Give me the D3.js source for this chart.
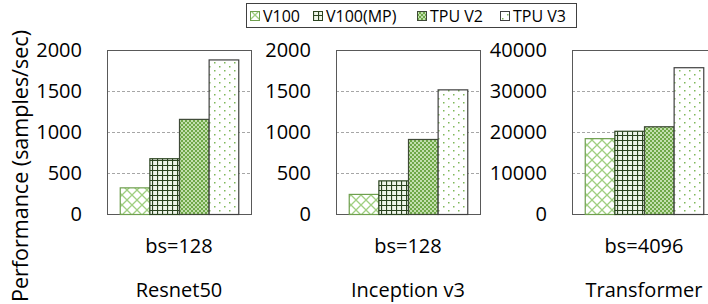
<!DOCTYPE html>
<html lang="en">
  <head>
    <meta charset="UTF-8" />
    <title>Performance by model</title>
    <script src="https://d3js.org/d3.v7.min.js"></script>
    <style>
      body { margin: 0; background: #fff; }
      .chart text { font-family: "Open Sans", sans-serif; fill: #000; }
    </style>
  </head>
  <body>
    <div class="chart"></div>
  </body>
  <script>
    // data
    var models = ["Resnet50", "Inception v3", "Transformer"];
    var batchSizes = ["bs=128", "bs=128", "bs=4096"];
    var series = ["V100", "V100(MP)", "TPU V2", "TPU V3"];
    var resnet50 = [325, 680, 1160, 1885];
    var inceptionV3 = [245, 410, 915, 1520];
    var transformer = [18500, 20300, 21400, 35800];
    var yMax = [2000, 2000, 40000];
    var yTitle = "Performance (samples/sec)";

    var values = [resnet50, inceptionV3, transformer];

    var width = 708, height = 304;
    var panelLeft = [107, 336, 572];
    var panelW = 144;
    var plotTop = 50, plotBottom = 214;

    var svg = d3
      .select(".chart")
      .append("svg")
      .attr("width", width)
      .attr("height", height);

    // fill patterns
    var defs = svg.append("defs");
    var pats = ["p-v100", "p-mp", "p-v2", "p-v3"];
    var strokes = ["#6f9f4f", "#2b4420", "#3f4a38", "#404040"];

    var p0 = defs.append("pattern").attr("id", pats[0])
      .attr("patternUnits", "userSpaceOnUse").attr("width", 10).attr("height", 10);
    p0.append("rect").attr("width", 10).attr("height", 10).attr("fill", "#fff");
    p0.append("path").attr("d", "M0,0L10,10M10,0L0,10")
      .attr("stroke", "#9fcf80").attr("stroke-width", 1.3).attr("fill", "none");

    var p1 = defs.append("pattern").attr("id", pats[1])
      .attr("patternUnits", "userSpaceOnUse").attr("width", 5).attr("height", 5);
    p1.append("rect").attr("width", 5).attr("height", 5).attr("fill", "#eef5e9");
    p1.append("path").attr("d", "M0,0.5H5M0.5,0V5")
      .attr("stroke", "#2b4420").attr("stroke-width", 1.2).attr("fill", "none");

    var p2 = defs.append("pattern").attr("id", pats[2])
      .attr("patternUnits", "userSpaceOnUse").attr("width", 4).attr("height", 4);
    p2.append("rect").attr("width", 4).attr("height", 4).attr("fill", "#6fa848");
    p2.append("rect").attr("x", 0).attr("y", 0).attr("width", 2).attr("height", 2).attr("fill", "#c3dfae");
    p2.append("rect").attr("x", 2).attr("y", 2).attr("width", 2).attr("height", 2).attr("fill", "#c3dfae");

    var p3 = defs.append("pattern").attr("id", pats[3])
      .attr("patternUnits", "userSpaceOnUse").attr("width", 10).attr("height", 8);
    p3.append("rect").attr("width", 10).attr("height", 8).attr("fill", "#fff");
    p3.append("rect").attr("x", 2).attr("y", 2).attr("width", 1.5).attr("height", 1.5).attr("fill", "#7fb85a");
    p3.append("rect").attr("x", 7).attr("y", 6).attr("width", 1.5).attr("height", 1.5).attr("fill", "#7fb85a");

    var color = d3.scaleOrdinal().domain(series).range(pats.map(function (d) { return "url(#" + d + ")"; }));
    var edge = d3.scaleOrdinal().domain(series).range(strokes);

    models.forEach(function (m, i) {
      var g = svg.append("g").attr("transform", "translate(" + panelLeft[i] + ",0)");

      var x = d3.scaleBand().domain(series).range([0, panelW]).paddingInner(0).paddingOuter(0.43);
      var y = d3.scaleLinear().domain([0, yMax[i]]).range([plotBottom, plotTop]);
      var ticks = y.ticks(4);

      // dashed grid
      g.selectAll(".grid")
        .data(ticks.filter(function (t) { return t > 0 && t < yMax[i]; }))
        .enter()
        .append("line")
        .attr("x1", 0).attr("x2", panelW)
        .attr("y1", function (d) { return Math.round(y(d)) + 0.5; })
        .attr("y2", function (d) { return Math.round(y(d)) + 0.5; })
        .attr("stroke", "#a6a6a6")
        .attr("stroke-dasharray", "3,2");

      // frame
      g.append("rect")
        .attr("x", 0.5).attr("y", plotTop + 0.5)
        .attr("width", panelW).attr("height", plotBottom - plotTop)
        .attr("fill", "none")
        .attr("stroke", "#595959");

      // tick labels
      g.selectAll(".tick")
        .data(ticks)
        .enter()
        .append("text")
        .attr("x", -25)
        .attr("y", function (d) { return y(d); })
        .attr("dy", "0.36em")
        .attr("text-anchor", "end")
        .attr("font-size", 20)
        .text(function (d) { return d; });

      // bars
      g.selectAll(".bar")
        .data(values[i])
        .enter()
        .append("rect")
        .attr("x", function (d, j) { return x(series[j]) + 0.5; })
        .attr("y", function (d) { return y(d) + 0.5; })
        .attr("width", x.bandwidth())
        .attr("height", function (d) { return plotBottom - y(d); })
        .attr("fill", function (d, j) { return color(series[j]); })
        .attr("stroke", function (d, j) { return edge(series[j]); })
        .attr("stroke-width", 1.2);

      g.append("text")
        .attr("x", panelW / 2).attr("y", 253)
        .attr("text-anchor", "middle").attr("font-size", 20)
        .text(batchSizes[i]);
      g.append("text")
        .attr("x", panelW / 2).attr("y", 297)
        .attr("text-anchor", "middle").attr("font-size", 20)
        .text(m);
    });

    // y title
    svg.append("text")
      .attr("transform", "translate(28,166) rotate(-90)")
      .attr("text-anchor", "middle")
      .attr("font-size", 21.5)
      .text(yTitle);

    // legend
    var legend = svg.append("g");
    legend.append("rect")
      .attr("x", 246.5).attr("y", 3.5).attr("width", 330).attr("height", 24)
      .attr("fill", "#fff").attr("stroke", "#404040");
    var itemX = [250, 313, 417, 500];
    var item = legend.selectAll(".item")
      .data(series)
      .enter()
      .append("g")
      .attr("transform", function (d, j) { return "translate(" + itemX[j] + ",0)"; });
    item.append("rect")
      .attr("x", 0.5).attr("y", 11.5).attr("width", 9).attr("height", 9)
      .attr("fill", function (d) { return color(d); })
      .attr("stroke", function (d) { return edge(d); });
    item.append("text")
      .attr("x", 13).attr("y", 21.5)
      .attr("font-size", 16)
      .text(function (d) { return d; });
  </script>
</html>
